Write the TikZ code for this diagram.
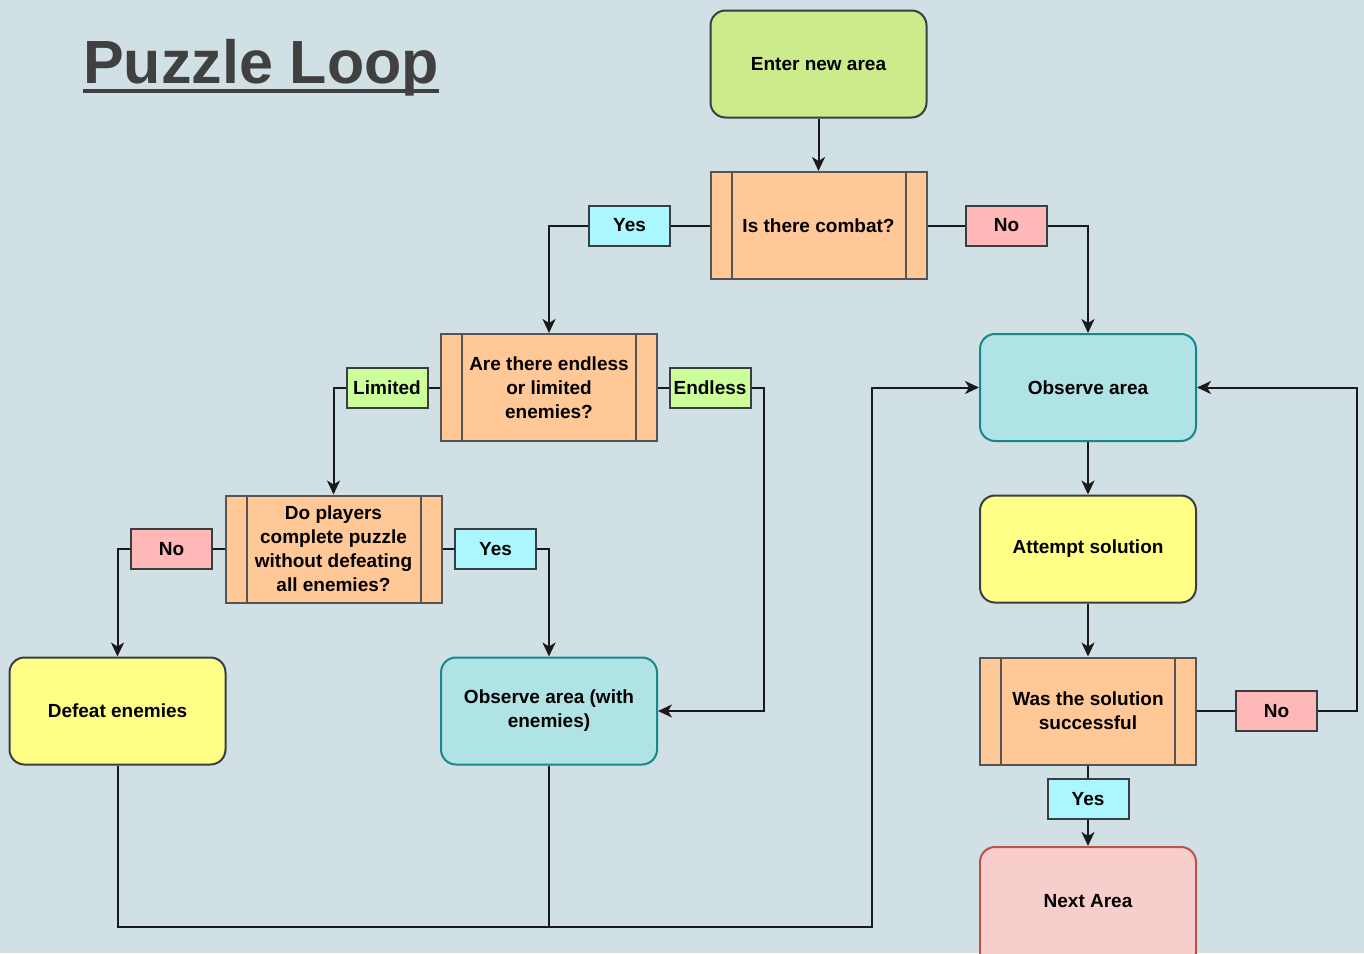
\documentclass[tikz,border=0pt]{standalone}
\usepackage{fontspec}
\setmainfont{Liberation Sans}
\usetikzlibrary{arrows.meta}

\definecolor{bg}{HTML}{D1E0E4}
\definecolor{edge}{HTML}{3A3D42}
\definecolor{wire}{HTML}{1A1A1A}
\definecolor{startfill}{HTML}{CDEB8B}
\definecolor{procfill}{HTML}{FFC896}
\definecolor{procedge}{HTML}{555555}
\definecolor{actfill}{HTML}{FFFF88}
\definecolor{obsfill}{HTML}{B0E3E6}
\definecolor{obsedge}{HTML}{17868D}
\definecolor{endfill}{HTML}{F8CECC}
\definecolor{endedge}{HTML}{B85450}
\definecolor{yesfill}{HTML}{AAF7FF}
\definecolor{nofill}{HTML}{FFB8B8}
\definecolor{kindfill}{HTML}{CCFF99}
\definecolor{titlecol}{HTML}{404040}

\begin{document}
\begin{tikzpicture}[
  x=1pt, y=-1pt,
  font=\fontsize{19}{24}\selectfont\bfseries,
  box/.style={line width=2pt, minimum width=216pt, minimum height=107pt,
              inner sep=0pt, align=center, text=black},
  term/.style={box, rounded corners=15pt},
  process/.style={box, fill=procfill, draw=procedge,
    path picture={
      \draw[procedge, line width=2pt]
        ([xshift=21pt]path picture bounding box.north west) --
        ([xshift=21pt]path picture bounding box.south west);
      \draw[procedge, line width=2pt]
        ([xshift=-21pt]path picture bounding box.north east) --
        ([xshift=-21pt]path picture bounding box.south east);
    }},
  tag/.style={draw=edge, line width=2pt, minimum width=81pt,
              minimum height=40pt, inner sep=0pt, text=black},
  link/.style={draw=wire, line width=2pt},
  arrow/.style={link, -{Stealth[length=14pt, width=13pt, inset=4pt]}},
]
\path[use as bounding box, clip] (0,0) rectangle (1364,953);
\fill[bg] (0,0) rectangle (1364,953);

% heading
\node[anchor=base west, inner sep=0pt, text=titlecol,
      font=\fontsize{61}{70}\selectfont\bfseries] (title) at (83,83) {Puzzle Loop};
\draw[titlecol, line width=4pt]
  ([yshift=-8pt]title.base west) -- ([yshift=-8pt]title.base east);

% main nodes
\node[term, fill=startfill, draw=edge] (enter) at (818.5,64) {Enter new area};
\node[process] (combat) at (818.5,225.5) {Is there combat?};
\node[process] (kindq) at (549,387.5) {Are there endless\\or limited\\enemies?};
\node[process] (skipq) at (333.5,549) {Do players\\complete puzzle\\without defeating\\all enemies?};
\node[term, fill=actfill, draw=edge] (defeat) at (117.5,711) {Defeat enemies};
\node[term, fill=obsfill, draw=obsedge] (obsfoe) at (549,711) {Observe area (with\\enemies)};
\node[term, fill=obsfill, draw=obsedge] (obs) at (1088,387.5) {Observe area};
\node[term, fill=actfill, draw=edge] (attempt) at (1088,549) {Attempt solution};
\node[process] (success) at (1088,711) {Was the solution\\successful};
\node[term, fill=endfill, draw=endedge, minimum height=120pt,
      text height=14pt, text depth=13pt, anchor=north] (next) at (1088,846) {Next Area};

% branch tags
\node[tag, fill=yesfill] (yesA) at (629.5,225.5) {Yes};
\node[tag, fill=nofill] (noA) at (1006.5,225.5) {No};
\node[tag, fill=kindfill] (limited) at (387,387.5) {Limited};
\node[tag, fill=kindfill] (endless) at (710,387.5) {Endless};
\node[tag, fill=nofill] (noB) at (171.5,549) {No};
\node[tag, fill=yesfill] (yesB) at (495.5,549) {Yes};
\node[tag, fill=nofill] (noC) at (1276.5,711) {No};
\node[tag, fill=yesfill] (yesC) at (1088,799) {Yes};

% routing corners
\coordinate (endlessturn) at (764,387.5);
\coordinate (bus) at (872,927);
\coordinate (retryturn) at (1357,711);

% connectors
\draw[arrow] (enter) -- (combat);
\draw[link] (combat.west) -- (yesA.east);
\draw[arrow] (yesA.west) -| (kindq.north);
\draw[link] (combat.east) -- (noA.west);
\draw[arrow] (noA.east) -| (obs.north);

\draw[link] (kindq.west) -- (limited.east);
\draw[arrow] (limited.west) -| (skipq.north);
\draw[link] (kindq.east) -- (endless.west);
\draw[arrow] (endless.east) -- (endlessturn) |- (obsfoe.east);

\draw[link] (skipq.west) -- (noB.east);
\draw[arrow] (noB.west) -| (defeat.north);
\draw[link] (skipq.east) -- (yesB.west);
\draw[arrow] (yesB.east) -| (obsfoe.north);

\draw[arrow] (defeat.south) |- (bus) |- (obs.west);
\draw[link] (obsfoe.south) -- (obsfoe.south |- bus);

\draw[arrow] (obs) -- (attempt);
\draw[arrow] (attempt) -- (success);
\draw[link] (success.east) -- (noC.west);
\draw[arrow] (noC.east) -- (retryturn) |- (obs.east);
\draw[link] (success.south) -- (yesC.north);
\draw[arrow] (yesC.south) -- (next.north);
\end{tikzpicture}
\end{document}
